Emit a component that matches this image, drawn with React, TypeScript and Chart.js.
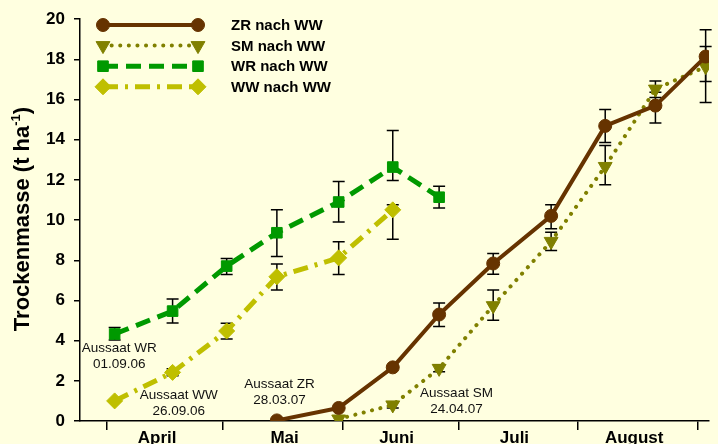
import React, { useEffect, useRef } from 'react';
import { Chart, registerables } from 'chart.js';

Chart.register(...registerables);

const FONT = '"Liberation Sans", Arial, Helvetica, sans-serif';
const BG = '#FFFFE0';

// x values are days of the year 2007 (1 = 1 January)
const monthBoundaryDays = [91, 121, 152, 182, 213, 244];
const monthLabels = ['April', 'Mai', 'Juni', 'Juli', 'August'];
const monthLabelDays = [104, 137, 166, 196.5, 227.5];
const yTicks = [0, 2, 4, 6, 8, 10, 12, 14, 16, 18, 20];

const seriesNames = ['ZR nach WW', 'SM nach WW', 'WR nach WW', 'WW nach WW'];

const zrDays = [135, 151, 165, 177, 191, 206, 220, 233, 246];
const zrValues = [0.03, 0.65, 2.67, 5.3, 7.84, 10.21, 14.69, 15.7, 18.14];
const zrUpper = [null, null, null, 5.87, 8.34, 10.76, 15.5, 16.37, 19.47];
const zrLower = [null, null, null, 4.71, 7.31, 9.57, 13.86, 14.83, 16.9];

const smDays = [151, 165, 177, 191, 206, 220, 233, 246];
const smValues = [0.1, 0.8, 2.62, 5.74, 8.94, 12.67, 16.52, 17.64];
const smUpper = [null, 0.95, 2.8, 6.52, 9.4, 13.71, 16.93, 18.64];
const smLower = [null, 0.65, 2.45, 5.02, 8.49, 11.76, 16.1, 15.85];

const wrDays = [93, 108, 122, 135, 151, 165, 177];
const wrValues = [4.33, 5.47, 7.71, 9.37, 10.9, 12.64, 11.14];
const wrUpper = [4.66, 6.07, 8.09, 10.51, 11.92, 14.46, 11.69];
const wrLower = [4.03, 4.88, 7.29, 8.19, 9.9, 11.97, 10.6];

const wwDays = [93, 108, 122, 135, 151, 165];
const wwValues = [1.0, 2.42, 4.48, 7.18, 8.12, 10.51];
const wwUpper = [null, 2.6, 4.86, 7.81, 8.92, 10.76];
const wwLower = [null, 2.25, 4.08, 6.52, 7.29, 9.05];

const annotationLines = [
  ['Aussaat WR', '01.09.06'],
  ['Aussaat WW', '26.09.06'],
  ['Aussaat ZR', '28.03.07'],
  ['Aussaat SM', '24.04.07'],
];
const annotationDays = [94.2, 109.6, 135.7, 181.5];
const annotationValues = [3.61, 1.26, 1.82, 1.37];

const styles = [
  { color: '#663300', width: 4, dash: [] as number[], cap: 'butt', point: 'circle', radius: 6.5, rotation: 0 },
  { color: '#808000', width: 4, dash: [0.1, 8.5], cap: 'round', point: 'triangle', radius: 8, rotation: 180 },
  { color: '#009900', width: 5, dash: [15, 8], cap: 'butt', point: 'rect', radius: 7.5, rotation: 0 },
  { color: '#BFBF00', width: 5, dash: [15, 7, 3, 7], cap: 'butt', point: 'rectRot', radius: 8, rotation: 0 },
];

const errorData = [
  { days: zrDays, upper: zrUpper, lower: zrLower },
  { days: smDays, upper: smUpper, lower: smLower },
  { days: wrDays, upper: wrUpper, lower: wrLower },
  { days: wwDays, upper: wwUpper, lower: wwLower },
];

function drawMarker(ctx: CanvasRenderingContext2D, kind: string, x: number, y: number, r: number, color: string) {
  ctx.save();
  ctx.fillStyle = color;
  ctx.strokeStyle = color;
  ctx.setLineDash([]);
  ctx.beginPath();
  if (kind === 'circle') {
    ctx.arc(x, y, r, 0, Math.PI * 2);
  } else if (kind === 'triangle') {
    const w = r * Math.sqrt(3) / 2;
    ctx.moveTo(x - w, y - r / 2);
    ctx.lineTo(x + w, y - r / 2);
    ctx.lineTo(x, y + r);
    ctx.closePath();
  } else if (kind === 'rect') {
    const s = r * Math.SQRT1_2;
    ctx.rect(x - s, y - s, 2 * s, 2 * s);
  } else {
    ctx.moveTo(x - r, y);
    ctx.lineTo(x, y - r);
    ctx.lineTo(x + r, y);
    ctx.lineTo(x, y + r);
    ctx.closePath();
  }
  ctx.fill();
  ctx.stroke();
  ctx.restore();
}

const backgroundPlugin = {
  id: 'bg',
  beforeDraw(chart: any) {
    const ctx = chart.ctx;
    ctx.save();
    ctx.fillStyle = BG;
    ctx.fillRect(0, 0, chart.width, chart.height);
    ctx.restore();
  },
};

const errorBarPlugin = {
  id: 'errorBars',
  beforeDatasetsDraw(chart: any) {
    const ctx = chart.ctx;
    const xs = chart.scales.x;
    const ys = chart.scales.y;
    ctx.save();
    ctx.strokeStyle = '#000';
    ctx.lineWidth = 1.5;
    ctx.setLineDash([]);
    errorData.forEach((e) => {
      e.days.forEach((d, i) => {
        const up = e.upper[i];
        const lo = e.lower[i];
        if (up == null || lo == null) return;
        const x = xs.getPixelForValue(d);
        const y1 = ys.getPixelForValue(up);
        const y2 = ys.getPixelForValue(lo);
        ctx.beginPath();
        ctx.moveTo(x, y1);
        ctx.lineTo(x, y2);
        ctx.moveTo(x - 6, y1);
        ctx.lineTo(x + 6, y1);
        ctx.moveTo(x - 6, y2);
        ctx.lineTo(x + 6, y2);
        ctx.stroke();
      });
    });
    ctx.restore();
  },
};

const overlayPlugin = {
  id: 'overlay',
  afterDraw(chart: any) {
    const ctx = chart.ctx;
    const xs = chart.scales.x;
    const ys = chart.scales.y;
    ctx.save();
    // annotations
    ctx.fillStyle = '#111';
    ctx.font = `13.5px ${FONT}`;
    ctx.textAlign = 'center';
    ctx.textBaseline = 'middle';
    annotationLines.forEach((lines, i) => {
      const x = xs.getPixelForValue(annotationDays[i]);
      const y = ys.getPixelForValue(annotationValues[i]);
      lines.forEach((t, j) => ctx.fillText(t, x, y + j * 16));
    });
    // legend
    const x1 = 103;
    const x2 = 198;
    seriesNames.forEach((name, i) => {
      const st = styles[i];
      const y = 25 + i * 20.6;
      ctx.save();
      ctx.strokeStyle = st.color;
      ctx.lineWidth = st.width;
      ctx.lineCap = st.cap as CanvasLineCap;
      ctx.setLineDash(st.dash);
      ctx.beginPath();
      ctx.moveTo(x1, y);
      ctx.lineTo(x2, y);
      ctx.stroke();
      ctx.restore();
      drawMarker(ctx, st.point, x1, y, st.radius, st.color);
      drawMarker(ctx, st.point, x2, y, st.radius, st.color);
      ctx.fillStyle = '#000';
      ctx.font = `bold 15px ${FONT}`;
      ctx.textAlign = 'left';
      ctx.textBaseline = 'middle';
      ctx.fillText(name, 231, y + 1);
    });
    // y axis title with superscript
    ctx.translate(28.5, 219);
    ctx.rotate(-Math.PI / 2);
    ctx.fillStyle = '#000';
    ctx.textAlign = 'left';
    ctx.textBaseline = 'alphabetic';
    const main = 'Trockenmasse (t ha';
    const sup = '-1';
    const end = ')';
    ctx.font = `bold 22px ${FONT}`;
    const w1 = ctx.measureText(main).width;
    const w3 = ctx.measureText(end).width;
    ctx.font = `bold 13px ${FONT}`;
    const w2 = ctx.measureText(sup).width;
    let x = -(w1 + w2 + w3) / 2;
    ctx.font = `bold 22px ${FONT}`;
    ctx.fillText(main, x, 0);
    x += w1;
    ctx.font = `bold 13px ${FONT}`;
    ctx.fillText(sup, x, -9);
    x += w2;
    ctx.font = `bold 22px ${FONT}`;
    ctx.fillText(end, x, 0);
    ctx.restore();
  },
};

export default function App() {
  const ref = useRef<HTMLCanvasElement>(null);
  useEffect(() => {
    const canvas = ref.current;
    if (!canvas) return;
    const series = [
      { days: zrDays, values: zrValues },
      { days: smDays, values: smValues },
      { days: wrDays, values: wrValues },
      { days: wwDays, values: wwValues },
    ];
    const labelMap = new Map<number, string>();
    monthLabelDays.forEach((d, i) => labelMap.set(d, monthLabels[i]));
    const chart = new Chart(canvas, {
      type: 'line',
      data: {
        datasets: series.map((s, i) => {
          const st = styles[i];
          return {
            label: seriesNames[i],
            data: s.days.map((d, j) => ({ x: d, y: s.values[j] })),
            borderColor: st.color,
            backgroundColor: st.color,
            borderWidth: st.width,
            borderDash: st.dash,
            borderCapStyle: st.cap as CanvasLineCap,
            borderJoinStyle: 'round' as CanvasLineJoin,
            pointStyle: st.point as any,
            pointRadius: st.radius,
            pointRotation: st.rotation,
            pointBackgroundColor: st.color,
            pointBorderColor: st.color,
            pointBorderWidth: 1,
            tension: 0,
            fill: false,
          };
        }),
      },
      options: {
        responsive: false,
        animation: false,
        events: [],
        layout: { padding: { top: 19, right: 0, bottom: 0, left: 0 } },
        plugins: { legend: { display: false }, tooltip: { enabled: false }, title: { display: false } },
        scales: {
          x: {
            type: 'linear',
            min: 84.03,
            max: 246.87,
            afterBuildTicks: (scale: any) => {
              const vals = [...monthBoundaryDays, ...monthLabelDays].sort((a, b) => a - b);
              scale.ticks = vals.map((v) => ({ value: v }));
            },
            afterFit: (scale: any) => {
              scale.height = 23;
            },
            ticks: {
              autoSkip: false,
              maxRotation: 0,
              minRotation: 0,
              padding: -2,
              color: '#000',
              font: { family: FONT, size: 17, weight: 'bold' },
              callback: (v: any) => labelMap.get(Number(v)) ?? '',
            },
            grid: {
              display: true,
              drawOnChartArea: false,
              drawTicks: true,
              tickLength: 9,
              lineWidth: 1.5,
              color: (c: any) => (c.tick && monthBoundaryDays.includes(c.tick.value) ? '#000' : 'rgba(0,0,0,0)'),
            },
            border: { display: true, color: '#000', width: 1.5 },
          },
          y: {
            type: 'linear',
            min: 0,
            max: 20,
            afterBuildTicks: (scale: any) => {
              scale.ticks = yTicks.map((v) => ({ value: v }));
            },
            afterFit: (scale: any) => {
              scale.width = 80;
            },
            ticks: {
              padding: 9,
              color: '#000',
              font: { family: FONT, size: 17, weight: 'bold' },
            },
            grid: {
              display: true,
              drawOnChartArea: false,
              drawTicks: true,
              tickLength: 6,
              lineWidth: 1.5,
              color: '#000',
            },
            border: { display: true, color: '#000', width: 1.5 },
          },
        },
      },
      plugins: [backgroundPlugin, errorBarPlugin, overlayPlugin],
    } as any);
    return () => chart.destroy();
  }, []);
  return (
    <div style={{ position: 'fixed', left: 0, top: 0, width: 718, height: 444, background: BG }}>
      <canvas ref={ref} width={718} height={444} style={{ display: 'block', width: 718, height: 444 }} />
    </div>
  );
}
